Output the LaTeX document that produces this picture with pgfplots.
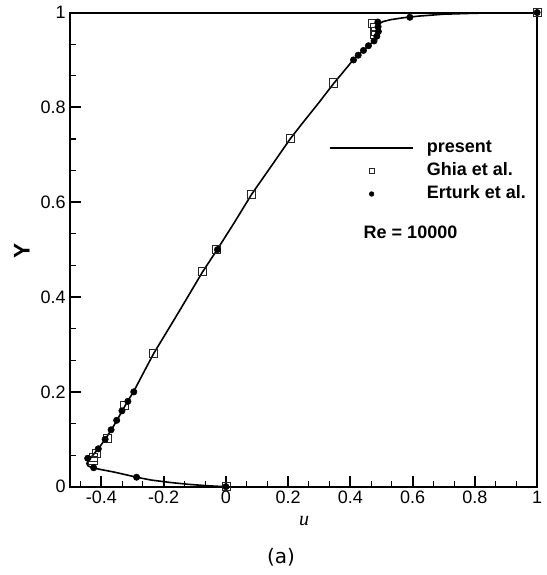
\documentclass[border=0pt]{standalone}
\usepackage{pgfplots}
\pgfplotsset{compat=1.18}
\usepackage{fontspec}
\setmainfont{Liberation Sans}
\newfontfamily\serifit{Liberation Serif}
\newfontfamily\capfont{DejaVu Sans}
\usetikzlibrary{calc}

\pgfplotsset{
  linelegend/.style={legend image code/.code={\draw[##1] (0pt,0pt) -- (62.6pt,0pt);}},
  marklegend/.style={legend image code/.code={\path[draw=none] (0pt,0pt) -- (62.6pt,0pt);
    \path[##1, draw=none, mark size=#1] plot coordinates {(31.3pt,0pt)};}},
}

% Re = 10000 centreline velocity
\pgfplotstableread{
u       y
1.000   1.000
0.900   0.9995
0.800   0.9985
0.700   0.9965
0.620   0.9925
0.570   0.989
0.530   0.985
0.505   0.981
0.492   0.976
0.488   0.970
0.487   0.962
0.485   0.953
0.480   0.945
0.470   0.937
0.455   0.928
0.438   0.918
0.420   0.907
0.405   0.897
0.380   0.877
0.347   0.851
0.300   0.811
0.250   0.770
0.207   0.734
0.150   0.680
0.083   0.617
0.027   0.557
-0.028  0.500
-0.075  0.453
-0.150  0.370
-0.232  0.281
-0.265  0.240
-0.297  0.200
-0.316  0.180
-0.333  0.160
-0.350  0.140
-0.368  0.120
-0.388  0.100
-0.410  0.080
-0.428  0.066
-0.441  0.056
-0.447  0.049
-0.443  0.044
-0.430  0.040
-0.400  0.036
-0.360  0.031
-0.320  0.025
-0.287  0.020
-0.240  0.014
-0.180  0.009
-0.120  0.005
-0.060  0.002
0.000   0.000
}\present

\pgfplotstableread{
u         y
1.00000   1.0000
0.47221   0.9766
0.47783   0.9688
0.48070   0.9609
0.47804   0.9531
0.34635   0.8516
0.20673   0.7344
0.08344   0.6172
-0.03111  0.5000
-0.07540  0.4531
-0.23186  0.2813
-0.32709  0.1719
-0.38000  0.1016
-0.41657  0.0703
-0.42537  0.0625
-0.42735  0.0547
0.00000   0.0000
}\ghia

\pgfplotstableread{
u       y
1.000   1.00
0.591   0.99
0.488   0.98
0.489   0.97
0.490   0.96
0.485   0.95
0.476   0.94
0.458   0.93
0.442   0.92
0.425   0.91
0.410   0.90
-0.027  0.50
-0.296  0.20
-0.315  0.18
-0.334  0.16
-0.351  0.14
-0.369  0.12
-0.388  0.10
-0.410  0.08
-0.444  0.06
-0.425  0.04
-0.287  0.02
0.000   0.00
}\erturk

\begin{document}
\begin{tikzpicture}
\begin{axis}[
  scale only axis, width=350pt, height=355.5pt,
  xmin=-0.5, xmax=1, ymin=0, ymax=1,
  xtick={-0.4,-0.2,0,0.2,0.4,0.6,0.8,1},
  ytick={0,0.2,0.4,0.6,0.8,1},
  minor xtick={-0.466667,-0.333333,-0.266667,-0.133333,-0.066667,0.066667,0.133333,0.266667,0.333333,0.466667,0.533333,0.666667,0.733333,0.866667,0.933333},
  minor ytick={0.066667,0.133333,0.266667,0.333333,0.466667,0.533333,0.666667,0.733333,0.866667,0.933333},
  tick align=inside, xtick pos=bottom, ytick pos=left,
  major tick length=8pt, minor tick length=4.5pt,
  every major tick/.append style={line width=1.4pt, black},
  every minor tick/.append style={line width=0.8pt, black},
  axis line style={line width=1.5pt},
  ticklabel style={font=\fontsize{13.5}{16}\selectfont},
  /pgf/number format/assume math mode=true,
  xlabel={\serifit\itshape u},
  ylabel={Y},
  xlabel style={at={(axis description cs:0.501,-0.072)}, anchor=center, font=\fontsize{15}{17}\selectfont},
  ylabel style={at={(axis description cs:-0.104,0.498)}, anchor=center, font=\bfseries\fontsize{17}{19}\selectfont},
  legend cell align=left,
  legend style={draw=none, fill=none, at={(axis cs:0.3306,0.7315)}, anchor=north west,
    inner sep=0pt, row sep=5.2pt, column sep=9.5pt,
    font=\bfseries\fontsize{13.5}{16}\selectfont,
    nodes={inner sep=0pt, text height=9.5pt, text depth=2.5pt}},
]
\addplot[black, line width=1.2pt, linelegend]
  table[x=u, y=y] {\present};
\addlegendentry{present}
\addplot[only marks, mark=square, mark size=3pt, mark options={draw=black!85, line width=0.6pt}, marklegend=2pt]
  table[x=u, y=y] {\ghia};
\addlegendentry{Ghia et al.}
\addplot[only marks, mark=*, mark size=2.4pt, mark options={draw=black, fill=black}, marklegend=1.75pt]
  table[x=u, y=y] {\erturk};
\addlegendentry{Erturk et al.}
\node[anchor=west, inner sep=0pt, font=\bfseries\fontsize{13.5}{16}\selectfont] at (axis cs:0.442,0.537) {Re = 10000};
\end{axis}
\node[font=\capfont\fontsize{15}{18}\selectfont] at ($(current axis.south west)+(158pt,-53pt)$) {(a)};
\path ($(current axis.south west)+(-52.7pt,-66.2pt)$) rectangle ($(current axis.north east)+(5.5pt,9.4pt)$);
\end{tikzpicture}
\end{document}
